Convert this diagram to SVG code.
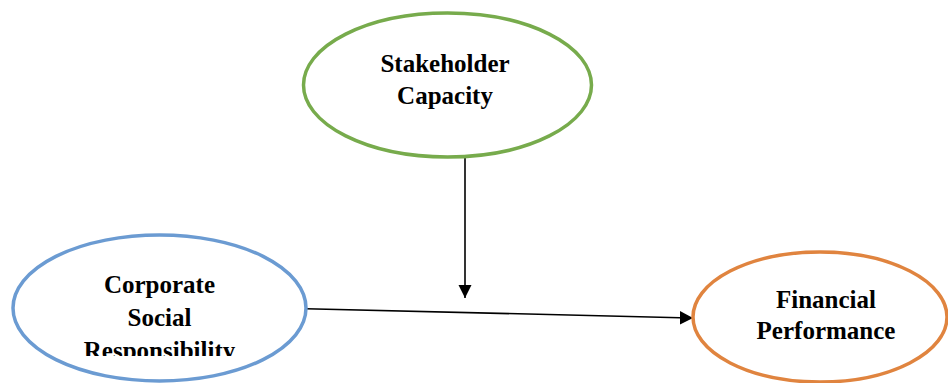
<svg xmlns="http://www.w3.org/2000/svg" width="948" height="383" viewBox="0 0 948 383">
<style>
  .node { fill: #ffffff; stroke-width: 3.5; }
  .lbl { font-family: "Liberation Serif", "Times New Roman", serif; font-weight: bold; font-size: 25px; fill: #000000; text-anchor: middle; }
  .conn { stroke: #000000; stroke-width: 1.6; fill: none; marker-end: url(#arrow); }
</style>
<defs>
  <marker id="arrow" viewBox="0 0 10 10" refX="10" refY="5" markerWidth="8" markerHeight="8" markerUnits="userSpaceOnUse" orient="auto">
    <path d="M0,0 L10,5 L0,10 z" fill="#000000"/>
  </marker>
  <clipPath id="csrClip"><rect x="0" y="0" width="948" height="356"/></clipPath>
</defs>
<rect width="948" height="383" fill="#ffffff"/>
<g id="connectors">
  <line class="conn" x1="465" y1="156" x2="465" y2="298" style="marker-end:none"/>
  <path d="M458.5,285 L471.5,285 L465,298 z" fill="#000000"/>
  <line x1="306" y1="308.7" x2="680" y2="317.7" stroke="#000000" stroke-width="1.6"/>
  <path d="M680,311 L693,318 L680,324.5 z" fill="#000000"/>
</g>
<g id="stakeholder-capacity">
  <ellipse class="node" cx="447.5" cy="85" rx="144" ry="72" stroke="#77AB4C"/>
  <text class="lbl" x="445" y="72">Stakeholder</text>
  <text class="lbl" x="445" y="104">Capacity</text>
</g>
<g id="corporate-social-responsibility">
  <ellipse class="node" cx="159.5" cy="308" rx="146.5" ry="73" stroke="#6B9BD2"/>
  <g clip-path="url(#csrClip)">
    <text class="lbl" x="159.5" y="293">Corporate</text>
    <text class="lbl" x="159.5" y="326">Social</text>
    <text class="lbl" x="159.5" y="359">Responsibility</text>
  </g>
</g>
<g id="financial-performance">
  <ellipse class="node" cx="820" cy="317" rx="127" ry="65" stroke="#E0843F"/>
  <text class="lbl" x="826" y="308">Financial</text>
  <text class="lbl" x="826" y="339">Performance</text>
</g>
</svg>
